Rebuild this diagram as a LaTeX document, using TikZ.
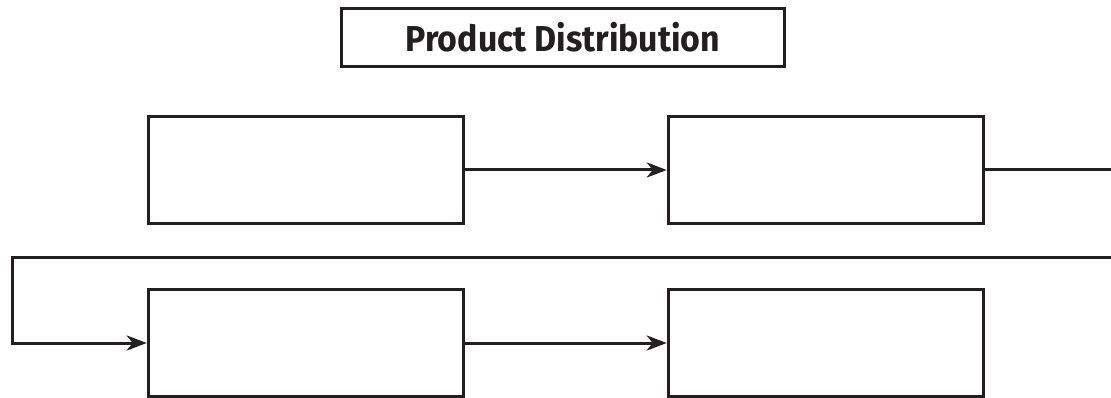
\documentclass[tikz,border=0pt]{standalone}
\usepackage{fontspec}
\setmainfont{Fira Sans}
\usetikzlibrary{arrows.meta}

\definecolor{ink}{HTML}{231F20}

\begin{document}
\begin{tikzpicture}[x=1pt,y=-1pt,
        flow/.style={draw=ink, line width=3pt},
        >={Stealth[length=20pt,width=15pt,inset=6pt]}]

        \useasboundingbox (0,0) rectangle (1111,398);

        % title
        \node[draw=ink, line width=3.5pt, minimum width=443pt, minimum height=58pt, inner sep=0pt,
              font=\bfseries\fontsize{36}{40}\selectfont, text=ink] (t) at (563,37.5)
              {\scalebox{0.94}[1]{Product Distribution}};

        \begin{scope}[every node/.style={rectangle, draw=ink, line width=3.5pt,
                      minimum width=315pt, minimum height=107pt, inner sep=0pt}]
          \node (1) at (306,170) {};
          \node (2) at (826,170) {};
          \node (3) at (306,343) {};
          \node (4) at (826,343) {};
        \end{scope}

        \coordinate (r1) at (1111,170);
        \coordinate (r2) at (1111,257);
        \coordinate (l1) at (12,257);
        \coordinate (l2) at (12,343);

        \draw[flow,->] (1) -- (2);
        \draw[flow,->] (3) -- (4);
        \draw[flow] (2) -- (r1);
        \draw[flow,->] (r2) -- (l1) -- (l2) -- (3);

      \end{tikzpicture}
\end{document}
